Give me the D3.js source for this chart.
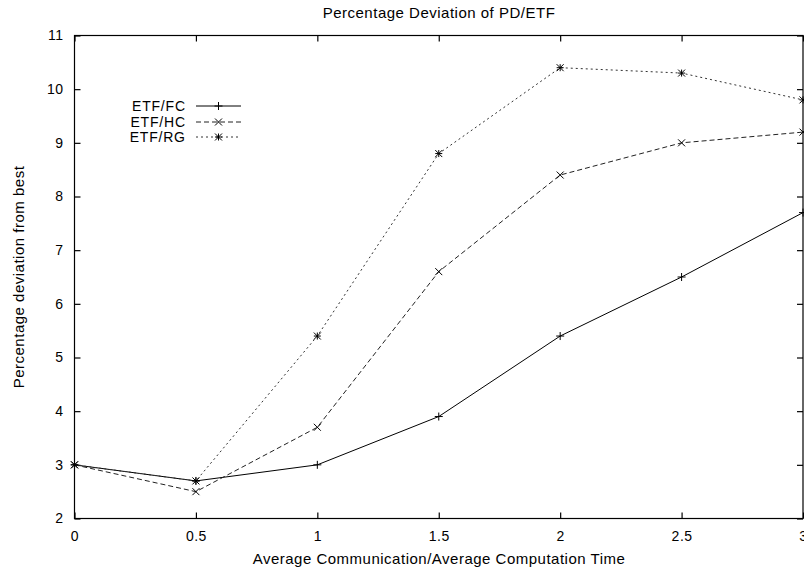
<!DOCTYPE html>
<html><head><meta charset="utf-8">
<script src="https://cdn.jsdelivr.net/npm/d3@7"></script>
<style>body{margin:0;background:#fff}svg{display:block}text{font-family:"Liberation Sans",Arial,sans-serif;fill:#000;letter-spacing:0.5px}</style>
</head><body><svg id="c" width="804" height="570"></svg>
<script>
const xValues = [0, 0.5, 1, 1.5, 2, 2.5, 3];
const seriesNames = ["ETF/FC", "ETF/HC", "ETF/RG"];
const fcValues = [3.0, 2.7, 3.0, 3.9, 5.4, 6.5, 7.7];
const hcValues = [3.0, 2.5, 3.7, 6.6, 8.4, 9.0, 9.2];
const rgValues = [3.0, 2.7, 5.4, 8.8, 10.4, 10.3, 9.8];
const xTicks = [0, 0.5, 1, 1.5, 2, 2.5, 3];
const yTicks = [2, 3, 4, 5, 6, 7, 8, 9, 10, 11];

const svg = d3.select("#c");
const L = 74.5, R = 803, T = 35.5, B = 518.5;
const x = d3.scaleLinear().domain([0, 3]).range([L, R]);
const y = d3.scaleLinear().domain([2, 11]).range([B, T]);

const series = [
  {name: seriesNames[0], values: fcValues, dash: null, marker: "plus", color: "#000"},
  {name: seriesNames[1], values: hcValues, dash: "5,3", marker: "cross", color: "#222"},
  {name: seriesNames[2], values: rgValues, dash: "2,3", marker: "star", color: "#333"}
];

svg.append("rect").attr("x", L).attr("y", T).attr("width", R - L).attr("height", B - T)
  .attr("fill", "none").attr("stroke", "#000").attr("stroke-width", 1.2);

const gx = svg.append("g").attr("transform", `translate(0,${B})`)
  .call(d3.axisBottom(x).tickValues(xTicks).tickSize(-6).tickPadding(13).tickFormat(d3.format("")));
const gxt = svg.append("g").attr("transform", `translate(0,${T})`)
  .call(d3.axisTop(x).tickValues(xTicks).tickSize(-6).tickFormat(""));
const gy = svg.append("g").attr("transform", `translate(${L},0)`)
  .call(d3.axisLeft(y).tickValues(yTicks).tickSize(-6).tickPadding(11).tickFormat(d3.format("")));
const gyr = svg.append("g").attr("transform", `translate(${R},0)`)
  .call(d3.axisRight(y).tickValues(yTicks).tickSize(-6).tickFormat(""));
[gx, gxt, gy, gyr].forEach(g => {
  g.select(".domain").remove();
  g.selectAll(".tick line").attr("stroke", "#000").attr("stroke-width", 1.2);
  g.selectAll("text").style("font-size", "14px").style("font-family", "'Liberation Sans',Arial,sans-serif").attr("fill", "#000");
});

function markerPath(type, cx, cy, s) {
  const p = d3.path();
  if (type === "plus" || type === "star") {
    p.moveTo(cx - s, cy); p.lineTo(cx + s, cy);
    p.moveTo(cx, cy - s); p.lineTo(cx, cy + s);
  }
  if (type === "cross" || type === "star") {
    p.moveTo(cx - s, cy - s); p.lineTo(cx + s, cy + s);
    p.moveTo(cx - s, cy + s); p.lineTo(cx + s, cy - s);
  }
  return p.toString();
}

const line = d3.line().x((d, i) => x(xValues[i])).y(d => y(d));
series.forEach(s => {
  svg.append("path").attr("d", line(s.values)).attr("fill", "none")
    .attr("stroke", s.color).attr("stroke-width", 1)
    .attr("stroke-dasharray", s.dash);
  s.values.forEach((v, i) => {
    svg.append("path").attr("d", markerPath(s.marker, x(xValues[i]), y(v), s.marker === "plus" ? 4 : 3.5))
      .attr("stroke", "#000").attr("stroke-width", 1).attr("fill", "none");
  });
});

const legY = [106, 122, 137];
series.forEach((s, i) => {
  svg.append("text").attr("x", 185.8).attr("y", legY[i]).attr("dy", "0.35em")
    .attr("text-anchor", "end").style("font-size", "14px").style("letter-spacing", "0.8px").text(s.name);
  svg.append("line").attr("x1", 196).attr("x2", 241).attr("y1", legY[i]).attr("y2", legY[i])
    .attr("stroke", s.color).attr("stroke-width", 1).attr("stroke-dasharray", s.dash);
  svg.append("path").attr("d", markerPath(s.marker, 218.5, legY[i], s.marker === "plus" ? 4 : 3.5))
    .attr("stroke", "#000").attr("stroke-width", 1).attr("fill", "none");
});

svg.append("text").attr("x", 439).attr("y", 18).attr("text-anchor", "middle")
  .style("font-size", "15px").text("Percentage Deviation of PD/ETF");
svg.append("text").attr("x", 439).attr("y", 564).attr("text-anchor", "middle")
  .style("font-size", "15px").text("Average Communication/Average Computation Time");
svg.append("text").attr("transform", "translate(24,277) rotate(-90)").attr("text-anchor", "middle")
  .style("font-size", "15px").text("Percentage deviation from best");
</script></body></html>
